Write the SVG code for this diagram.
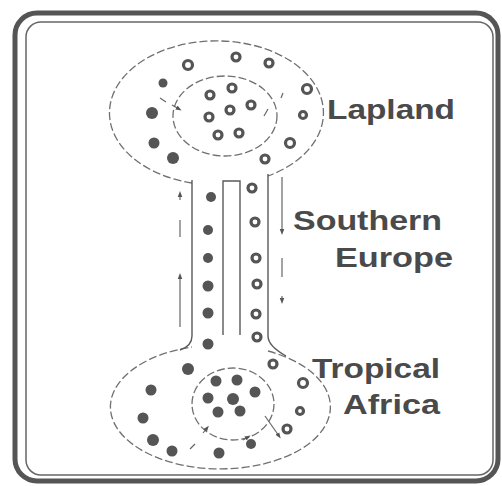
<svg xmlns="http://www.w3.org/2000/svg" width="502" height="486" viewBox="0 0 502 486">
<style>
.dash{fill:none;stroke:#707070;stroke-width:1.3;stroke-dasharray:8 3}
.wall{fill:none;stroke:#5a5a5a;stroke-width:1.4}
.d{fill:#555}
.r{fill:#fff;stroke:#555;stroke-width:3.2}
.fl{fill:none;stroke:#666;stroke-width:1.2}
.lbl{font-family:"Liberation Sans",Arial,sans-serif;font-weight:bold;font-size:28px;fill:#4a4a4a}
</style>
<defs>
<marker id="ah" viewBox="0 0 8 8" refX="4" refY="4" markerWidth="5" markerHeight="5" orient="auto"><path d="M0,1 L8,4 L0,7 Z" fill="#555"/></marker>
</defs>
<rect width="502" height="486" fill="#fff"/>
<g id="frame">
<rect x="15" y="13" width="483" height="468" rx="22" fill="none" stroke="#555" stroke-width="5"/>
<rect x="26" y="22" width="467" height="453" rx="15" fill="none" stroke="#666" stroke-width="1.5"/>
</g>
<g id="lapland">
<path class="dash" d="M192,183 A107,72 0 1 1 268,176"/>
<ellipse class="dash" cx="225" cy="116" rx="52" ry="40"/>
<circle class="r" cx="188" cy="65" r="4.5"/>
<circle class="r" cx="236" cy="57" r="4"/>
<circle class="r" cx="269" cy="63" r="4"/>
<circle class="d" cx="163" cy="83" r="4.5"/>
<circle class="d" cx="152" cy="113" r="6"/>
<circle class="d" cx="154" cy="143" r="5.5"/>
<circle class="d" cx="173" cy="158" r="6"/>
<circle class="r" cx="307" cy="89" r="4.5"/>
<circle class="r" cx="303" cy="115" r="3.5"/>
<circle class="r" cx="290" cy="143" r="4.5"/>
<circle class="r" cx="265" cy="159" r="4"/>
<circle class="r" cx="210" cy="95" r="4"/>
<circle class="r" cx="232" cy="88" r="4"/>
<circle class="r" cx="251" cy="105" r="4"/>
<circle class="r" cx="230" cy="110" r="4"/>
<circle class="r" cx="209" cy="117" r="4"/>
<circle class="r" cx="218" cy="135" r="4"/>
<circle class="r" cx="239" cy="133" r="4"/>
</g>
<g id="southern-europe">
<path class="wall" d="M192,180 L192,336 M268,174 L268,336"/>
<path class="wall" d="M223,335 L223,181 L240,181 L240,335"/>
<circle class="d" cx="211" cy="197" r="5"/>
<circle class="d" cx="208" cy="230" r="5"/>
<circle class="d" cx="208" cy="258" r="5"/>
<circle class="d" cx="208" cy="286" r="5.5"/>
<circle class="d" cx="208" cy="313" r="5.5"/>
<circle class="d" cx="208" cy="344" r="5.5"/>
<circle class="r" cx="252" cy="188" r="4"/>
<circle class="r" cx="255" cy="222" r="4"/>
<circle class="r" cx="256" cy="258" r="4"/>
<circle class="r" cx="257" cy="284" r="4"/>
<circle class="r" cx="256" cy="314" r="4"/>
<circle class="r" cx="257" cy="337" r="4"/>
</g>
<g id="tropical-africa">
<path class="dash" d="M268,351 A110,62 0 1 1 192,347"/>
<path class="wall" d="M192,336 Q192,346 180,350 M268,336 Q268,346 286,356"/>
<ellipse class="dash" cx="233" cy="404" rx="41" ry="36"/>
<circle class="d" cx="188" cy="369" r="6"/>
<circle class="d" cx="151" cy="390" r="5.5"/>
<circle class="d" cx="143" cy="418" r="5.5"/>
<circle class="d" cx="153" cy="440" r="6"/>
<circle class="d" cx="172" cy="451" r="5.5"/>
<circle class="d" cx="219" cy="453" r="5.5"/>
<circle class="d" cx="251" cy="444" r="5"/>
<circle class="r" cx="273" cy="364" r="4"/>
<circle class="r" cx="303" cy="383" r="4.5"/>
<circle class="r" cx="300" cy="411" r="3.5"/>
<circle class="r" cx="287" cy="429" r="4"/>
<circle class="d" cx="216" cy="381" r="5.5"/>
<circle class="d" cx="237" cy="380" r="5.5"/>
<circle class="d" cx="208" cy="398" r="5.5"/>
<circle class="d" cx="233" cy="399" r="6"/>
<circle class="d" cx="255" cy="392" r="5.5"/>
<circle class="d" cx="218" cy="412" r="5.5"/>
<circle class="d" cx="240" cy="411" r="5.5"/>
</g>
<g id="connectors">
<path class="fl" d="M180,220 L180,237"/>
<path class="fl" d="M180,327 L180,276" marker-end="url(#ah)"/>
<path class="fl" d="M180,200 L180,194" marker-end="url(#ah)"/>
<path class="fl" d="M282,177 L282,232" marker-end="url(#ah)"/>
<path class="fl" d="M282,258 L282,277"/>
<path class="fl" d="M282,296 L282,301" marker-end="url(#ah)"/>
<path class="fl" d="M160,98 L166,102"/>
<path class="fl" d="M172,105 L179,109" marker-end="url(#ah)"/>
<path class="fl" d="M264,116 L268,109"/>
<path class="fl" d="M281,98 L283,93"/>
<path class="fl" d="M265,416 L279,436" marker-end="url(#ah)"/>
<path class="fl" d="M190,449 L195,444"/>
<path class="fl" d="M203,433 L207,428" marker-end="url(#ah)"/>
<path class="fl" d="M243,440 L248,437" marker-end="url(#ah)"/>
</g>
<g id="labels">
<text class="lbl" x="327" y="119" textLength="128" lengthAdjust="spacingAndGlyphs">Lapland</text>
<text class="lbl" x="293" y="230" textLength="149" lengthAdjust="spacingAndGlyphs">Southern</text>
<text class="lbl" x="335" y="267" textLength="118" lengthAdjust="spacingAndGlyphs">Europe</text>
<text class="lbl" x="312" y="378" textLength="128" lengthAdjust="spacingAndGlyphs">Tropical</text>
<text class="lbl" x="343" y="414" textLength="97" lengthAdjust="spacingAndGlyphs">Africa</text>
</g>
</svg>
